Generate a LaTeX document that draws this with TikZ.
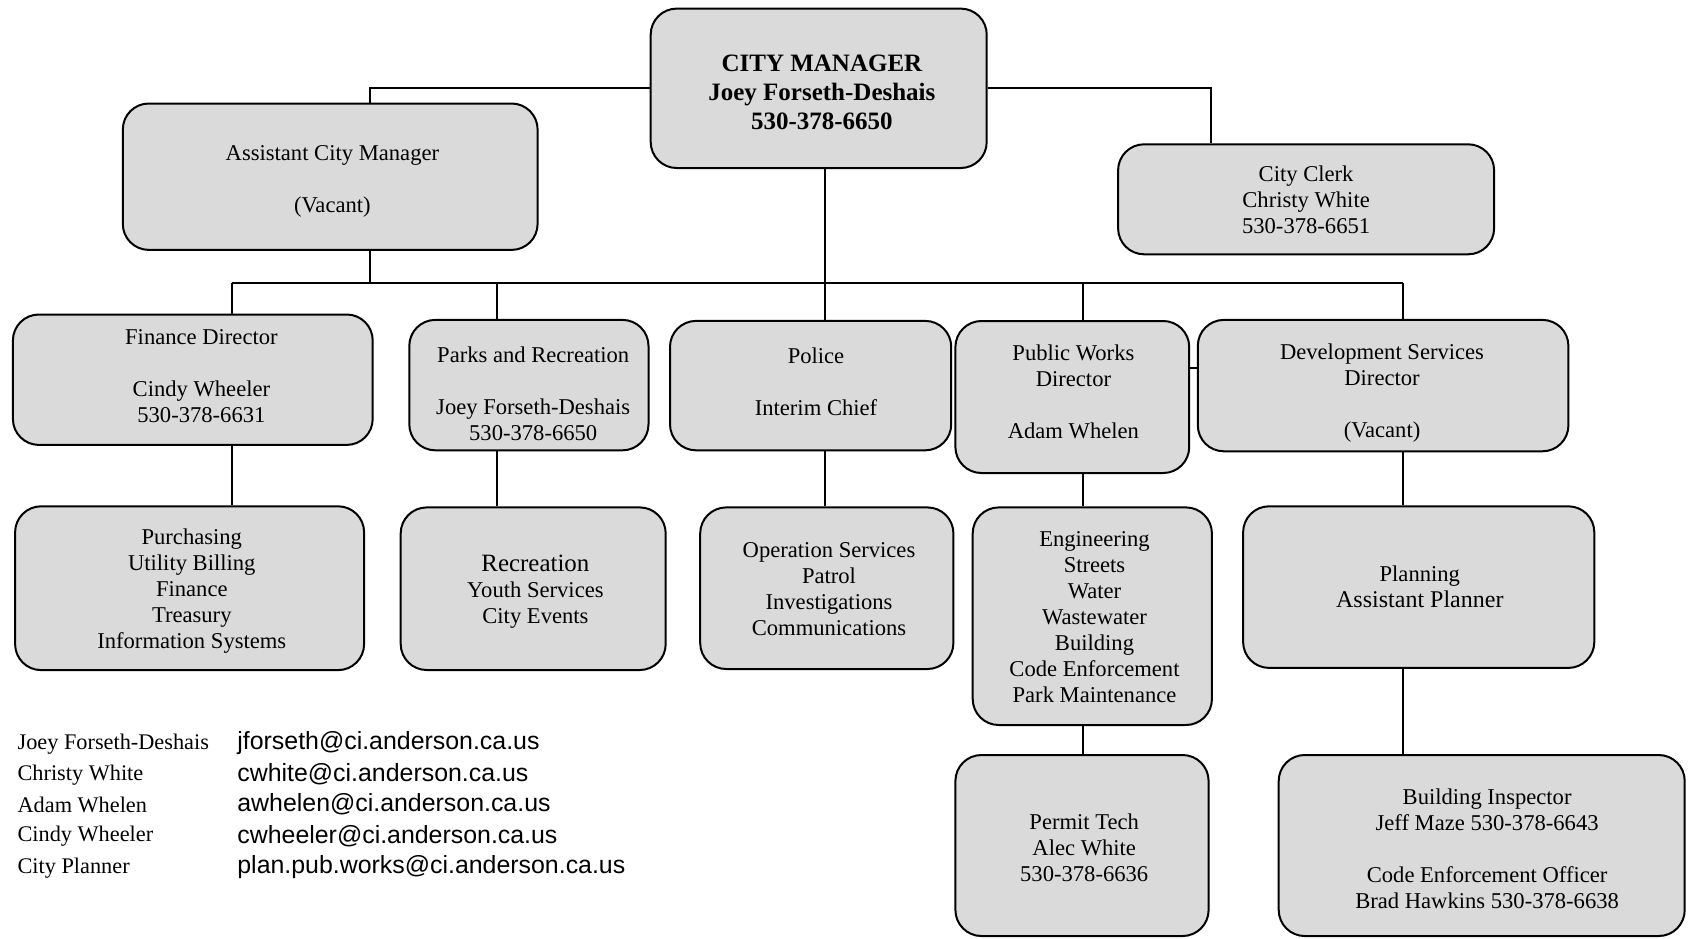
\documentclass[tikz,border=0pt]{standalone}
\usepackage{fontspec}
\setmainfont{Liberation Serif}
\newfontfamily\mailfont{Liberation Sans}
\usepackage{tikz}
\definecolor{boxgray}{RGB}{218,218,218}
\newcommand{\bodysize}{\fontsize{11.3}{13}\selectfont}
\tikzset{ box/.style = { rectangle
                       , draw            = black
                       , line width      = 1pt
                       , rounded corners = 13pt
                       , fill            = boxgray
                       , inner sep       = 0pt
                       },
          txt/.style  = { align     = center
                        , inner sep = 0pt
                        , font      = \bodysize
                        },
          boss/.style = { txt
                        , font = \fontsize{12.5}{14.55}\selectfont\bfseries
                        },
          link/.style = { draw       = black
                        , line width = 1pt
                        },
          who/.style  = { anchor    = west
                        , inner sep = 0pt
                        , font      = \fontsize{11.15}{13}\selectfont
                        },
          mail/.style = { anchor    = west
                        , inner sep = 0pt
                        , font      = \mailfont\fontsize{12.45}{14}\selectfont
                        }
        }

\begin{document}
\begin{tikzpicture}[x=0.5pt,y=-0.5pt]
    \clip (0,0) rectangle (1689,938);
    % top row
    \node[box, minimum width=168pt, minimum height=79.7pt] (cm) at (818.7,88.3) {};
    \node[boss] (cmt) at (821.9,92.6) {CITY MANAGER\\Joey Forseth-Deshais\\530-378-6650};
    \node[box, minimum width=207.4pt, minimum height=73.2pt] (acm) at (330.2,176.7) {};
    \node[txt] (acmt) at (332.4,181) {Assistant City Manager\\[13pt](Vacant)};
    \node[box, minimum width=188pt, minimum height=55pt] (clk) at (1306.1,199.3) {};
    \node[txt] (clkt) at (1306.1,199.3) {City Clerk\\Christy White\\530-378-6651};
    % departments
    \node[box, minimum width=179.9pt, minimum height=65.2pt] (fin) at (192.8,379.7) {};
    \node[txt] (fint) at (201.4,376.5) {Finance Director\\[13pt]Cindy Wheeler\\530-378-6631};
    \node[box, minimum width=119.6pt, minimum height=65.2pt] (prk) at (528.9,385.1) {};
    \node[txt] (prkt) at (533.2,393.7) {Parks and Recreation\\[13pt]Joey Forseth-Deshais\\530-378-6650};
    \node[box, minimum width=140.6pt, minimum height=64.7pt] (pol) at (810.6,385.6) {};
    \node[txt] (polt) at (816,381.3) {Police\\[13pt]Interim Chief};
    \node[box, minimum width=116.9pt, minimum height=76pt] (pw) at (1072.3,397) {};
    \node[txt] (pwt) at (1073.4,392.2) {Public Works\\Director\\[13pt]Adam Whelen};
    \node[box, minimum width=185.3pt, minimum height=65.7pt] (ds) at (1383.1,385.6) {};
    \node[txt] (dst) at (1382,393.1) {Development Services\\Director\\[13pt](Vacant)};
    % divisions
    \node[box, minimum width=174.5pt, minimum height=81.9pt] (pur) at (189.6,588.2) {};
    \node[txt] (purt) at (191.8,591.4) {Purchasing\\Utility Billing\\Finance\\Treasury\\Information Systems};
    \node[box, minimum width=132.5pt, minimum height=81.3pt] (rec) at (533.2,588.7) {};
    \node[txt] (rect) at (535.4,591.9) {{\fontsize{12.45}{14}\selectfont Recreation}\\Youth Services\\City Events};
    \node[box, minimum width=126.6pt, minimum height=80.8pt] (ops) at (826.8,588.2) {};
    \node[txt] (opst) at (829,589.3) {Operation Services\\Patrol\\Investigations\\Communications};
    \node[box, minimum width=119.6pt, minimum height=108.8pt] (eng) at (1092.3,616.2) {};
    \node[txt] (engt) at (1094.5,617.3) {Engineering\\Streets\\Water\\Wastewater\\Building\\Code Enforcement\\Park Maintenance};
    \node[box, minimum width=175.6pt, minimum height=80.8pt] (pln) at (1418.7,587.1) {};
    \node[txt] (plnt) at (1419.8,587.1) {Planning\\{\fontsize{12}{14}\selectfont Assistant Planner}};
    \node[box, minimum width=126.6pt, minimum height=90.5pt] (pmt) at (1082,845.5) {};
    \node[txt] (pmtt) at (1084.2,847.7) {Permit Tech\\Alec White\\530-378-6636};
    \node[box, minimum width=203pt, minimum height=90.5pt] (bld) at (1481.7,845.5) {};
    \node[txt] (bldt) at (1487.1,848.7) {Building Inspector\\Jeff Maze 530-378-6643\\[13pt]Code Enforcement Officer\\Brad Hawkins 530-378-6638};
    % contacts
    \node[who] (n1) at (17.2,743.8) {Joey Forseth-Deshais};
    \node[who] (n2) at (17.2,775) {Christy White};
    \node[who] (n3) at (17.2,804.6) {Adam Whelen};
    \node[who] (n4) at (17.2,836.4) {Cindy Wheeler};
    \node[who] (n5) at (17.2,867.7) {City Planner};
    \node[mail] (m1) at (237,743.2) {jforseth@ci.anderson.ca.us};
    \node[mail] (m2) at (237,774.4) {cwhite@ci.anderson.ca.us};
    \node[mail] (m3) at (237,804.6) {awhelen@ci.anderson.ca.us};
    \node[mail] (m4) at (237,835.8) {cwheeler@ci.anderson.ca.us};
    \node[mail] (m5) at (237,867.1) {plan.pub.works@ci.anderson.ca.us};
    % bus and drop points
    \coordinate (b1) at (231.6,283.3);
    \coordinate (b2) at (369.5,283.3);
    \coordinate (b3) at (496.6,283.3);
    \coordinate (b4) at (825.1,283.3);
    \coordinate (b5) at (1082.6,283.3);
    \coordinate (b6) at (1402.5,283.3);
    \coordinate (ck) at (1210.8,90.5);
    \coordinate (pd) at (0,368.4);
    \path[link] (b1) -- (b6);
    \path[link] (cm.west) -| (acm.north -| b2);
    \path[link] (cm.east) -| (clk.north -| ck);
    \path[link] (acm.south -| b2) -- (b2);
    \path[link] (cm.south -| b4) -- (pol.north -| b4);
    \path[link] (b1) -- (fin.north -| b1);
    \path[link] (b3) -- (prk.north -| b3);
    \path[link] (b5) -- (pw.north -| b5);
    \path[link] (b6) -- (ds.north -| b6);
    \path[link] (pw.east |- pd) -- (ds.west |- pd);
    \path[link] (fin.south -| b1) -- (pur.north -| b1);
    \path[link] (prk.south -| b3) -- (rec.north -| b3);
    \path[link] (pol.south -| b4) -- (ops.north -| b4);
    \path[link] (pw.south -| b5) -- (eng.north -| b5);
    \path[link] (eng.south -| b5) -- (pmt.north -| b5);
    \path[link] (ds.south -| b6) -- (pln.north -| b6);
    \path[link] (pln.south -| b6) -- (bld.north -| b6);
\end{tikzpicture}
\end{document}
